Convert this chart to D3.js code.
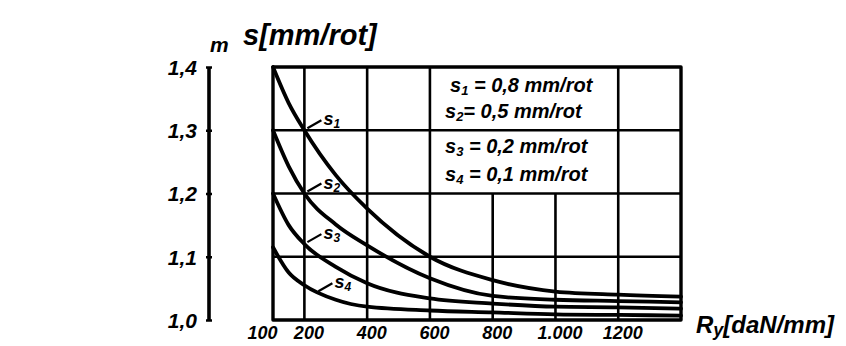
<!DOCTYPE html>
<html>
<head>
<meta charset="utf-8">
<script src="https://cdn.jsdelivr.net/npm/d3@7"></script>
<style>
  html, body { margin: 0; padding: 0; background: #fff; }
  svg { display: block; }
  text { font-family: "Liberation Sans", Arial, sans-serif; font-weight: bold; font-style: italic; fill: #000; }
</style>
</head>
<body>
<svg id="chart" width="846" height="346"></svg>
<script>
// ---- data ----
const feedRates = [100, 150, 200, 300, 400, 600, 800, 1000, 1200, 1400];   // Ry [daN/mm]
const s1 = [1.400, 1.343, 1.300, 1.229, 1.176, 1.100, 1.063, 1.045, 1.040, 1.037]; // s = 0,8 mm/rot
const s2 = [1.300, 1.243, 1.200, 1.151, 1.118, 1.066, 1.038, 1.032, 1.030, 1.028]; // s = 0,5 mm/rot
const s3 = [1.200, 1.150, 1.120, 1.084, 1.058, 1.034, 1.026, 1.021, 1.020, 1.018]; // s = 0,2 mm/rot
const s4 = [1.115, 1.075, 1.055, 1.032, 1.021, 1.015, 1.012, 1.009, 1.008, 1.007]; // s = 0,1 mm/rot
const seriesNames = ["1", "2", "3", "4"];
const legendLabels = [
  ["1", " = 0,8 mm/rot"],
  ["2", "= 0,5 mm/rot"],
  ["3", " = 0,2 mm/rot"],
  ["4", " = 0,1 mm/rot"]
];
const xTickValues = [100, 200, 400, 600, 800, 1000, 1200];
const xTickLabels = ["100", "200", "400", "600", "800", "1.000", "1200"];
const yTickValues = [1.0, 1.1, 1.2, 1.3, 1.4];
const yTickLabels = ["1,0", "1,1", "1,2", "1,3", "1,4"];
const xGridFull = [200, 400, 600, 1200];
const xGridLower = [800, 1000];
const yGrid = [1.1, 1.2, 1.3];
const labelAt = 200; // curve labels point at this Ry value

// ---- layout ----
const svg = d3.select("#chart");
const x = d3.scaleLinear().domain([100, 1400]).range([273, 681]);
const y = d3.scaleLinear().domain([1.0, 1.4]).range([320, 67]);

// grid
const grid = svg.append("g").attr("stroke", "#000").attr("stroke-width", 2.6).attr("fill", "none");
grid.selectAll("line.vf").data(xGridFull).join("line")
  .attr("x1", d => x(d)).attr("x2", d => x(d))
  .attr("y1", y(1.4)).attr("y2", y(1.0));
grid.selectAll("line.vl").data(xGridLower).join("line")
  .attr("x1", d => x(d)).attr("x2", d => x(d))
  .attr("y1", y(1.2)).attr("y2", y(1.0));
grid.selectAll("line.h").data(yGrid).join("line")
  .attr("x1", x(100)).attr("x2", x(1400))
  .attr("y1", d => y(d)).attr("y2", d => y(d));
// frame
svg.append("rect")
  .attr("x", x(100)).attr("y", y(1.4))
  .attr("width", x(1400) - x(100)).attr("height", y(1.0) - y(1.4))
  .attr("fill", "none").attr("stroke", "#000").attr("stroke-width", 3.4)
  .attr("stroke-linejoin", "round");

// curves
const allSeries = [s1, s2, s3, s4];
const line = d3.line().x((d, i) => x(feedRates[i])).y(d => y(d)).curve(d3.curveMonotoneX);
svg.append("g").selectAll("path").data(allSeries).join("path")
  .attr("d", d => line(d))
  .attr("fill", "none").attr("stroke", "#000").attr("stroke-width", 3.8)
  .attr("stroke-linecap", "round");

// curve labels with leaders
const lbl = svg.append("g");
const li = feedRates.indexOf(labelAt);
allSeries.forEach((s, k) => {
  const px = x(feedRates[li]), py = y(s[li]);
  const ox = k === 3 ? 14 : 3, oy = k === 3 ? 6 : -2;
  lbl.append("line")
    .attr("x1", px + ox).attr("y1", py + oy)
    .attr("x2", px + ox + 14).attr("y2", py + oy - 8)
    .attr("stroke", "#000").attr("stroke-width", 2.2);
  const t = lbl.append("text")
    .attr("x", px + ox + 16).attr("y", py + oy - 3)
    .attr("font-size", 18);
  t.append("tspan").text("s");
  t.append("tspan").attr("font-size", 12).attr("dy", 3).text(seriesNames[k]);
});

// legend (inside the upper-right cells)
const leg = svg.append("g");
const legY = [92, 118, 153, 181];
const legX = [450, 445, 445, 445];
legendLabels.forEach((l, i) => {
  const t = leg.append("text").attr("x", legX[i]).attr("y", legY[i]).attr("font-size", 20);
  t.append("tspan").text("s");
  t.append("tspan").attr("font-size", 13).attr("dy", 3).text(l[0]);
  t.append("tspan").attr("dy", -3).text(l[1]);
});

// left axis
const yAxis = d3.axisLeft(y).tickValues(yTickValues)
  .tickFormat((d, i) => yTickLabels[i]).tickSizeInner(3).tickSizeOuter(0).tickPadding(9);
const ya = svg.append("g").attr("transform", "translate(209,0)").call(yAxis);
ya.select(".domain").attr("stroke", "#000").attr("stroke-width", 3.6)
  .attr("d", `M0,${y(1.4)}V${y(1.0)}`);
ya.selectAll(".tick line").attr("stroke", "#000").attr("stroke-width", 2.5).attr("x2", 3).attr("x1", -3);
ya.selectAll(".tick text").attr("font-size", 21).attr("font-family", null).attr("dy", "0.35em");

// bottom axis labels (no axis line – the frame is the axis)
const xAxis = d3.axisBottom(x).tickValues(xTickValues)
  .tickFormat((d, i) => xTickLabels[i]).tickSize(0).tickPadding(6);
const xa = svg.append("g").attr("transform", `translate(0,${y(1.0)})`).call(xAxis);
xa.select(".domain").remove();
xa.selectAll(".tick text").attr("font-size", 18).attr("font-family", null)
  .attr("dx", (d, i) => i === 0 ? -11 : 4);

// axis titles
svg.append("text").attr("x", 210).attr("y", 52).attr("font-size", 21).text("m");
svg.append("text").attr("x", 243).attr("y", 45).attr("font-size", 29).text("s[mm/rot]");
const xt = svg.append("text").attr("x", 696).attr("y", 333).attr("font-size", 24);
xt.append("tspan").text("R");
xt.append("tspan").attr("font-size", 18).attr("dy", 3).text("y");
xt.append("tspan").attr("dy", -3).text("[daN/mm]");
</script>
</body>
</html>
